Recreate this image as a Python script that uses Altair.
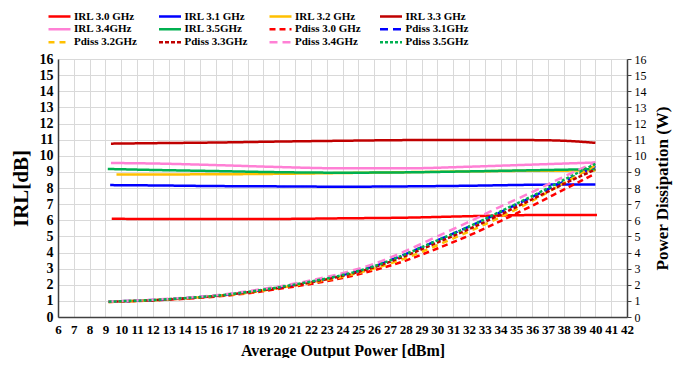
import altair as alt
import pandas as pd

# ---------------- data ----------------
names = ["IRL 3.0 GHz", "IRL 3.1 GHz", "IRL 3.2 GHz", "IRL 3.3 GHz",
         "IRL 3.4GHz", "IRL 3.5GHz", "Pdiss 3.0 GHz", "Pdiss 3.1GHz",
         "Pdiss 3.2GHz", "Pdiss 3.3GHz", "Pdiss 3.4GHz", "Pdiss 3.5GHz"]
colors = ["#FF0000", "#0000FF", "#FFC000", "#C00000", "#FF80D5", "#00B050",
          "#FF0000", "#0000FF", "#FFC000", "#C00000", "#FF80D5", "#00B050"]
dashes = [[1, 0]] * 6 + [[6, 4], [8, 5], [6, 5], [4, 2], [8, 5], [3, 2]]

irl_x_30 = [9.4, 12, 16, 20, 24, 28, 32, 36, 40.1]
irl_30 = [6.10, 6.07, 6.07, 6.08, 6.12, 6.16, 6.25, 6.32, 6.32]
irl_x_31 = [9.3, 12, 16, 20, 24, 28, 32, 36, 40]
irl_31 = [8.18, 8.16, 8.12, 8.10, 8.08, 8.10, 8.14, 8.20, 8.22]
irl_x_32 = [9.7, 12, 16, 20, 24, 28, 32, 36, 40]
irl_32 = [8.83, 8.84, 8.85, 8.88, 8.93, 8.98, 9.03, 9.07, 9.08]
irl_x_33 = [9.35, 12, 16, 20, 24, 28, 32, 36, 38, 40]
irl_33 = [10.75, 10.78, 10.82, 10.88, 10.93, 10.97, 10.98, 10.97, 10.93, 10.80]
irl_x_34 = [9.35, 12, 16, 20, 24, 28, 32, 36, 40]
irl_34 = [9.55, 9.52, 9.42, 9.30, 9.22, 9.22, 9.32, 9.45, 9.58]
irl_x_35 = [9.15, 12, 16, 20, 24, 28, 32, 36, 40]
irl_35 = [9.18, 9.12, 9.05, 8.98, 8.95, 8.97, 9.03, 9.10, 9.17]

pd_x = [9.2, 10, 12, 14, 16, 18, 20, 22, 24, 26, 28, 30, 32, 34, 36, 38, 40]
pd_30 = [0.93, 0.96, 1.03, 1.13, 1.27, 1.47, 1.75, 2.05, 2.42, 2.90, 3.50, 4.25, 5.05, 5.95, 6.90, 7.90, 8.90]
pd_31 = [0.95, 0.98, 1.05, 1.17, 1.32, 1.55, 1.85, 2.20, 2.60, 3.15, 3.90, 4.75, 5.60, 6.50, 7.45, 8.40, 9.35]
pd_32 = [0.93, 0.96, 1.04, 1.15, 1.30, 1.50, 1.80, 2.12, 2.50, 3.00, 3.65, 4.45, 5.30, 6.20, 7.20, 8.30, 9.40]
pd_33 = [0.95, 0.97, 1.04, 1.16, 1.30, 1.53, 1.82, 2.15, 2.55, 3.08, 3.80, 4.62, 5.45, 6.35, 7.30, 8.25, 9.15]
pd_34 = [0.96, 0.99, 1.07, 1.19, 1.35, 1.60, 1.90, 2.27, 2.72, 3.30, 4.10, 5.00, 5.90, 6.85, 7.75, 8.70, 9.60]
pd_35 = [0.95, 0.98, 1.05, 1.17, 1.32, 1.55, 1.85, 2.20, 2.60, 3.15, 3.90, 4.75, 5.60, 6.55, 7.50, 8.50, 9.50]

x_ticks = list(range(6, 43))
y_ticks = list(range(0, 17))

irl_sets = [(irl_x_30, irl_30), (irl_x_31, irl_31), (irl_x_32, irl_32),
            (irl_x_33, irl_33), (irl_x_34, irl_34), (irl_x_35, irl_35)]
pd_sets = [pd_30, pd_31, pd_32, pd_33, pd_34, pd_35]

rows = []
for i, (xs, ys) in enumerate(irl_sets):
    for k, (a, b) in enumerate(zip(xs, ys)):
        rows.append({"x": a, "y": b, "series": names[i], "kind": "IRL", "o": k})
for i, ys in enumerate(pd_sets):
    for k, (a, b) in enumerate(zip(pd_x, ys)):
        rows.append({"x": a, "y": b, "series": names[6 + i], "kind": "PD", "o": k})
df = pd.DataFrame(rows)

FONT = "Liberation Serif"

x_enc = alt.X("x:Q", scale=alt.Scale(domain=[6, 42], nice=False, zero=False),
              axis=alt.Axis(values=x_ticks, title="Average Output Power [dBm]",
                            labelFontWeight="bold", labelFontSize=13,
                            labelOverlap=False, labelFlush=False, ticks=False,
                            labelPadding=6, titleFontSize=16, titlePadding=6))
color = alt.Color("series:N", scale=alt.Scale(domain=names, range=colors),
                  legend=alt.Legend(title=None))
dash = alt.StrokeDash("series:N", scale=alt.Scale(domain=names, range=dashes),
                      legend=alt.Legend(title=None))

irl = alt.Chart(df[df.kind == "IRL"]).mark_line(strokeWidth=2.5, interpolate="monotone").encode(
    x=x_enc,
    y=alt.Y("y:Q", scale=alt.Scale(domain=[0, 16], nice=False),
            axis=alt.Axis(values=y_ticks, title="IRL[dB]", orient="left",
                          labelFontWeight="bold", labelFontSize=14, ticks=False,
                          labelPadding=5, titleFontSize=21, titlePadding=8)),
    color=color, strokeDash=dash, order="o:Q")

pdiss = alt.Chart(df[df.kind == "PD"]).mark_line(strokeWidth=2.5, interpolate="monotone").encode(
    x=x_enc,
    y=alt.Y("y:Q", scale=alt.Scale(domain=[0, 16], nice=False),
            axis=alt.Axis(values=y_ticks, title="Power Dissipation (W)", orient="right",
                          labelFontWeight="normal", labelFontSize=12, ticks=True,
                          tickSize=4, labelPadding=3, grid=False,
                          titleFontSize=17, titlePadding=8, titleAngle=270,
                          titleBaseline="top")),
    color=color, strokeDash=dash, order="o:Q")

chart = alt.layer(irl, pdiss).resolve_scale(y="independent").properties(
    width=569, height=258,
    padding={"left": 50, "top": 51, "right": 48, "bottom": 41},
    autosize=alt.AutoSizeParams(type="none"),
).configure_view(stroke=None).configure_axis(
    labelFont=FONT, titleFont=FONT, titleFontWeight="bold",
    labelColor="#000000", titleColor="#000000",
    gridColor="#d9d9d9", gridWidth=1,
    domainColor="#404040", domainWidth=1.5, tickColor="#404040",
).configure_legend(
    orient="none", legendX=-11, legendY=-49, columns=4, gridAlign="all",
    direction="horizontal",
    symbolType="stroke", symbolSize=484, symbolStrokeWidth=2.5,
    labelFont=FONT, labelFontSize=11, labelFontWeight="bold", labelColor="#000000",
    columnPadding=17.5, rowPadding=0, labelOffset=2, clipHeight=12.5,
)

chart.save("out.html", embed_options={"renderer": "svg", "actions": False})
